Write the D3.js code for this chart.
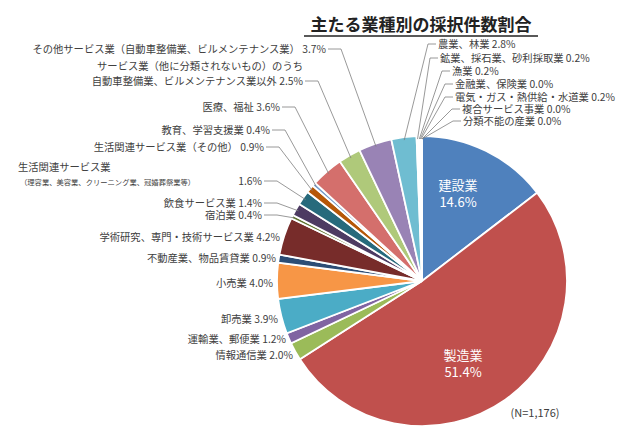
<!DOCTYPE html>
<html><head><meta charset="utf-8">
<script src="https://cdn.jsdelivr.net/npm/d3@7"></script>
<style>body{margin:0;background:#fff}svg{font-family:"Noto Sans CJK JP","Noto Sans",sans-serif}</style>
</head><body><svg id="c" width="640" height="444"></svg>
<script>
const categories = ["建設業","製造業","情報通信業","運輸業、郵便業","卸売業","小売業","不動産業、物品賃貸業","学術研究、専門・技術サービス業","宿泊業","飲食サービス業","生活関連サービス業","生活関連サービス業（その他）","教育、学習支援業","医療、福祉","サービス業（他に分類されないもの）のうち|自動車整備業、ビルメンテナンス業以外","その他サービス業（自動車整備業、ビルメンテナンス業）","農業、林業","鉱業、採石業、砂利採取業","漁業","金融業、保険業","電気・ガス・熱供給・水道業","複合サービス事業","分類不能の産業"];
const values = [14.6,51.4,2.0,1.2,3.9,4.0,0.9,4.2,0.4,1.4,1.6,0.9,0.4,3.6,2.5,3.7,2.8,0.2,0.2,0.0,0.2,0.0,0.0];
const colors = ["#4f81bd","#c0504d","#9bbb59","#8064a2","#4bacc6","#f79646","#2c4d75","#772c2a","#5f7530","#4d3b62","#276a7c","#b65708","#729aca","#d46f6c","#afc97a","#9983b5","#6fbdd1","#f2f2f2","#f2f2f2","#f2f2f2","#f2f2f2","#f2f2f2","#f2f2f2"];
// label layout: [x, y, anchor, leader]
const labelPos = [null,null,[293,355,"end",0],[286,339,"end",0],[278,319,"end",0],[273,283,"end",0],[276,258,"end",0],[280,237,"end",0],[262,215,"end",1],[262,203,"end",1],[262,181,"end",1],[264,147,"end",1],[270,130,"end",1],[280,107,"end",1],[303,81,"end",1],[326,49,"end",1],[438,44,"start",1],[440,58,"start",1],[452,71,"start",1],[455,84,"start",1],[455,97,"start",1],[462,109,"start",1],[463,121,"start",1]];

const svg = d3.select("#c");
const cx=422, cy=281, r=145;
const g = svg.append("g").attr("transform",`translate(${cx},${cy})`);
const pie = d3.pie().sort(null).value(d=>d)(values);
const arc = d3.arc().innerRadius(0).outerRadius(r);
g.selectAll("path").data(pie).join("path").attr("d",arc)
 .attr("fill",(d,i)=>colors[i]).attr("stroke","#fff").attr("stroke-width",1.8);

svg.append("text").attr("x",421).attr("y",31).attr("text-anchor","middle")
 .attr("font-size",17).attr("font-weight","bold").attr("fill","#222").text("主たる業種別の採択件数割合");
svg.append("line").attr("x1",304).attr("x2",538).attr("y1",36).attr("y2",36).attr("stroke","#222").attr("stroke-width",1.3);

const fs=10.3;
pie.forEach((d,i)=>{
  const lp=labelPos[i]; if(!lp) return;
  const [x,y,anc,lead]=lp;
  const pct=values[i].toFixed(1)+"%";
  const name=categories[i];
  if(i===10){
    svg.append("text").attr("x",18).attr("y",171).attr("font-size",fs).attr("fill","#404040").text(name);
    svg.append("text").attr("x",20).attr("y",185).attr("font-size",7.3).attr("fill","#404040").text("（理容業、美容業、クリーニング業、冠婚葬祭業等）");
    svg.append("text").attr("x",x).attr("y",y+4).attr("text-anchor","end").attr("font-size",fs).attr("fill","#404040").text(pct);
  } else if(name.includes("|")){
    const [a,b]=name.split("|");
    svg.append("text").attr("x",x).attr("y",y-15+4).attr("text-anchor","end").attr("font-size",fs).attr("fill","#404040").text(a);
    svg.append("text").attr("x",x).attr("y",y+4).attr("text-anchor","end").attr("font-size",fs).attr("fill","#404040").text(b+" "+pct);
  } else {
    svg.append("text").attr("x",x).attr("y",y+4).attr("text-anchor",anc).attr("font-size",fs).attr("fill","#404040").text(name+" "+pct);
  }
  if(lead){
    const a=(d.startAngle+d.endAngle)/2;
    const px=cx+Math.sin(a)*(r-3), py=cy-Math.cos(a)*(r-3);
    const ex = anc==="end" ? x+15 : x-10;
    const sx = anc==="end" ? x+2 : x-2;
    svg.append("polyline").attr("points",`${sx},${y} ${ex},${y} ${px},${py}`)
      .attr("fill","none").attr("stroke","#7f7f7f").attr("stroke-width",0.8);
  }
});
[[0,458,190],[1,463,360]].forEach(([i,x,y])=>{
  svg.append("text").attr("x",x).attr("y",y).attr("text-anchor","middle").attr("font-size",13).attr("fill","#fff").text(categories[i]);
  svg.append("text").attr("x",x).attr("y",y+17).attr("text-anchor","middle").attr("font-size",13).attr("fill","#fff").text(values[i].toFixed(1)+"%");
});
svg.append("text").attr("x",535).attr("y",417).attr("text-anchor","middle").attr("font-size",11).attr("fill","#404040").text("(N=1,176)");
</script></body></html>
